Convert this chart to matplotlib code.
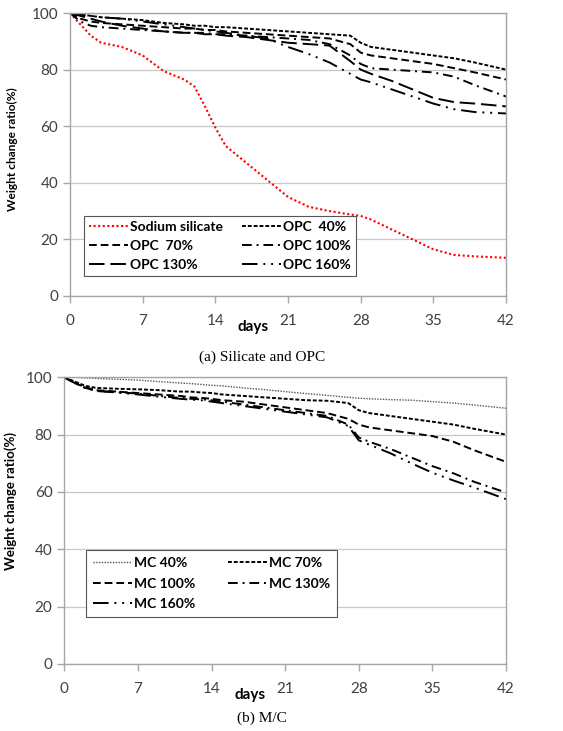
import matplotlib
matplotlib.use("Agg")
import matplotlib.pyplot as plt

plt.rcParams["font.family"] = ["Lato", "DejaVu Sans"]

# ---------------- data ----------------
days = [0, 1, 2, 3, 5, 7, 9, 11, 12, 13, 14, 15, 17, 19, 21, 23, 25, 27, 28, 29, 31, 33, 35, 37, 39, 42]

# (a) silicate and OPC
sodium_silicate = [100, 96, 92, 89.5, 88, 85, 79.5, 76.5, 74, 67, 59.5, 53, 47, 41, 35, 31.5, 30, 28.8, 28.3, 27, 23.5, 20, 16.5, 14.5, 14, 13.5]
opc_40 = [100, 99.5, 99, 98.5, 98, 97.5, 96.5, 96, 95.5, 95.5, 95, 95, 94.5, 94, 93.5, 93, 92.5, 92, 89.5, 88, 87, 86, 85, 84, 82.5, 80]
opc_70 = [100, 98, 97, 96.5, 96, 95.5, 95, 94.5, 94.5, 94, 94, 93.5, 93, 92.5, 92, 91.5, 91, 89, 86, 85, 84, 83, 82, 80.5, 79, 76.5]
opc_100 = [100, 97, 95.5, 95, 94.5, 94, 93.5, 93, 93, 93, 92.5, 92.5, 92, 91.5, 91, 90.5, 89, 85, 82, 80.5, 80, 79.5, 79, 77.5, 74.5, 70.5]
opc_130 = [100, 99, 98, 97, 95.5, 94.5, 93.5, 93, 93, 92.5, 92.5, 92, 91.5, 90.5, 89.5, 89, 88.5, 83, 80, 78.5, 76, 73, 70, 68.5, 68, 67]
opc_160 = [100, 99.5, 99, 98.5, 98, 97, 96, 95, 94.5, 94, 93.5, 93, 92, 91, 88, 85.5, 82.5, 78.5, 76.5, 75.5, 73, 70.5, 68, 66, 65, 64.5]

# (b) M/C
mc_40 = [100, 100, 99.8, 99.6, 99.3, 99, 98.5, 98, 97.8, 97.5, 97.2, 97, 96.3, 95.7, 95, 94.3, 93.7, 93, 92.7, 92.5, 92.2, 92, 91.5, 91, 90.3, 89.2]
mc_70 = [100, 98.5, 97, 96.3, 96, 95.8, 95.5, 95, 95, 94.7, 94.5, 94, 93.5, 93, 92.5, 92, 91.8, 91, 88.5, 87.5, 86.5, 85.5, 84.5, 83.5, 82, 80]
mc_100 = [100, 98, 96.5, 95.5, 95, 94.5, 94, 93.5, 93, 92.8, 92.5, 92, 91.5, 90.5, 89.5, 88.5, 87.5, 85.5, 83.5, 82.5, 81.5, 80.5, 79.5, 77.5, 74.5, 70.5]
mc_130 = [100, 98, 96.3, 95.3, 94.8, 94.3, 93.5, 92.8, 92.5, 92.3, 92, 91.5, 90.5, 89.5, 88.5, 87.5, 86.5, 83.5, 79, 77.5, 75, 72, 69, 66.5, 63.5, 59.8]
mc_160 = [100, 98, 96.3, 95.2, 94.7, 94, 93.2, 92.5, 92.2, 92, 91.5, 91, 90, 89, 88, 87, 86, 83, 78, 76.5, 73.5, 70, 66.7, 64, 61.5, 57.5]

x_ticks = [0, 7, 14, 21, 28, 35, 42]
y_ticks = [0, 20, 40, 60, 80, 100]

dash_styles = {
    "short": (0, (2, 1)),
    "dash": (0, (4, 2)),
    "dashdot": (0, (5, 2.5, 1, 2.5)),
    "long": (0, (8, 3)),
    "longdd": (0, (8, 3, 1, 3, 1, 3)),
}

GRID = "#c8c8c8"
SPINE = "#a6a6a6"
TICKC = "#404040"


def style_axes(ax, ylab_size):
    ax.set_xlim(0, 42)
    ax.set_ylim(0, 100)
    ax.set_xticks(x_ticks)
    ax.set_yticks(y_ticks)
    ax.yaxis.grid(True, color=GRID, lw=0.9)
    ax.set_axisbelow(True)
    for s in ax.spines.values():
        s.set_color(SPINE)
        s.set_linewidth(1.0)
    ax.tick_params(axis="both", colors=SPINE, labelcolor=TICKC, labelsize=11,
                   length=5, width=1.0, direction="out")
    ax.tick_params(axis="x", pad=8)
    ax.set_ylabel("Weight change ratio(%)", fontsize=ylab_size, fontweight="bold")
    ax.set_xlabel("days", fontsize=11, fontweight="bold")


def row_legend(ax, order, anchor, **kw):
    h, l = ax.get_legend_handles_labels()
    leg = ax.legend([h[i] for i in order], [l[i] for i in order], ncol=2,
                    loc="lower left", bbox_to_anchor=anchor,
                    fancybox=False, framealpha=1, edgecolor="#555555",
                    prop={"weight": "bold", "size": 10}, handlelength=2.8,
                    handletextpad=0.15, **kw)
    leg.get_frame().set_linewidth(0.8)
    return leg


fig = plt.figure(figsize=(5.63, 7.31), dpi=100)

# ---------------- (a) ----------------
ax1 = fig.add_axes([0.1243, 0.5951, 0.7745, 0.3871])
ax1.plot(days, sodium_silicate, color="red", lw=1.5, ls=(0, (1, 1.2)), label="Sodium silicate")
ax1.plot(days, opc_40, color="black", lw=1.4, ls=dash_styles["short"], label="OPC  40%")
ax1.plot(days, opc_70, color="black", lw=1.4, ls=dash_styles["dash"], label="OPC  70%")
ax1.plot(days, opc_100, color="black", lw=1.4, ls=dash_styles["dashdot"], label="OPC 100%")
ax1.plot(days, opc_130, color="black", lw=1.4, ls=dash_styles["long"], label="OPC 130%")
ax1.plot(days, opc_160, color="black", lw=1.4, ls=dash_styles["longdd"], label="OPC 160%")
style_axes(ax1, 8.6)
ax1.yaxis.set_label_coords(-0.12, 0.52)
ax1.xaxis.set_label_coords(0.42, -0.085)
row_legend(ax1, [0, 2, 4, 1, 3, 5], (0.016, 0.046),
           columnspacing=1.4, labelspacing=0.5, borderpad=0.35)
fig.text(0.465, 1 - 357 / 731, "(a) Silicate and OPC", ha="center", va="center",
         family="Liberation Serif", fontsize=11)

# ---------------- (b) ----------------
ax2 = fig.add_axes([0.1142, 0.0917, 0.7846, 0.3922])
ax2.plot(days, mc_40, color="#555555", lw=1.0, ls=(0, (1, 1)), label="MC 40%")
ax2.plot(days, mc_70, color="black", lw=1.4, ls=dash_styles["short"], label="MC 70%")
ax2.plot(days, mc_100, color="black", lw=1.4, ls=dash_styles["dash"], label="MC 100%")
ax2.plot(days, mc_130, color="black", lw=1.4, ls=dash_styles["dashdot"], label="MC 130%")
ax2.plot(days, mc_160, color="black", lw=1.4, ls=dash_styles["longdd"], label="MC 160%")
style_axes(ax2, 9.5)
ax2.yaxis.set_label_coords(-0.107, 0.57)
ax2.xaxis.set_label_coords(0.42, -0.085)
row_legend(ax2, [0, 2, 4, 1, 3], (0.033, 0.14),
           columnspacing=2.4, labelspacing=0.6, borderpad=0.5)
fig.text(0.465, 1 - 718 / 731, "(b) M/C", ha="center", va="center",
         family="Liberation Serif", fontsize=11)

fig.savefig("out.png", dpi=100)
